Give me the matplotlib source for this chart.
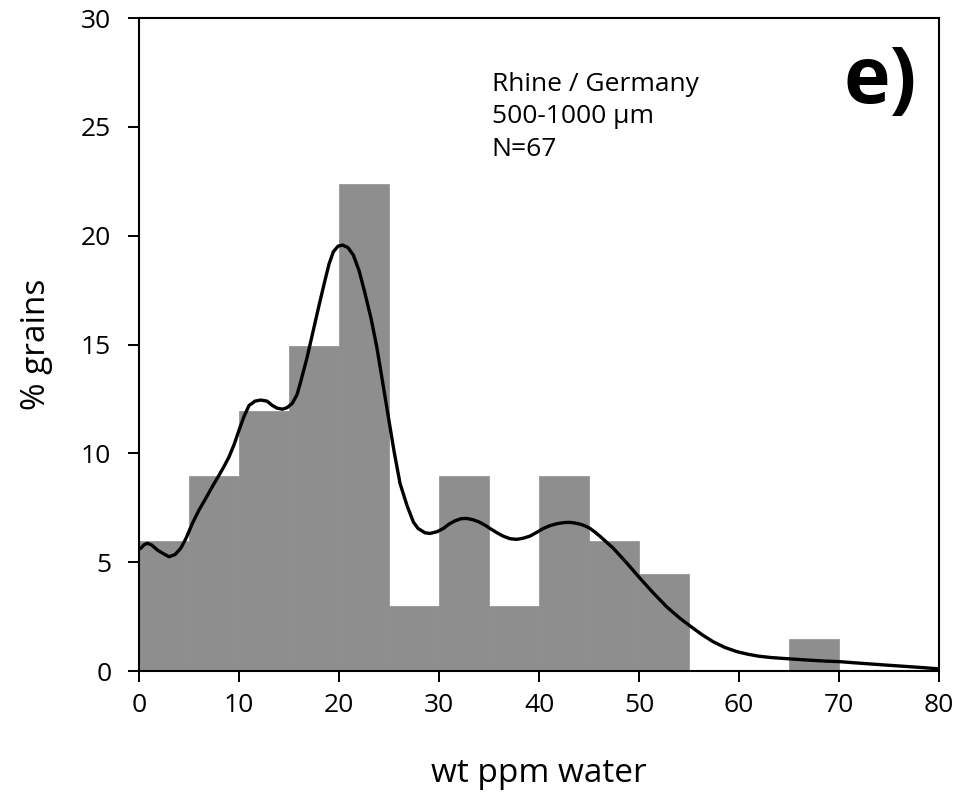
import numpy as np
import matplotlib.pyplot as plt

plt.rcParams['font.family'] = ['Open Sans', 'DejaVu Sans']

# histogram: % of grains per 5 ppm bin
bin_left = [0, 5, 10, 15, 20, 25, 30, 35, 40, 45, 50, 55, 60, 65, 70, 75]
pct_grains = [5.97, 8.96, 11.94, 14.93, 22.39, 2.99, 8.96, 2.99, 8.96, 5.97,
              4.48, 0, 0, 1.49, 0, 0]
bin_width = 5

# smoothed distribution curve
curve_x = [0, 0.17, 0.5, 0.83, 1.3, 1.83, 2.4, 3.0, 3.6, 4.17, 4.7, 5.33,
           6.0, 6.67, 7.3, 8.0, 8.5, 9.0, 9.5, 10.0, 10.5, 11.0, 11.6,
           12.17, 12.8, 13.33, 13.8, 14.33, 14.8, 15.33, 15.8, 16.17, 16.8,
           17.43, 18.0, 18.6, 19.0, 19.43, 19.9, 20.37, 20.9, 21.43, 22.0,
           22.6, 23.2, 23.77, 24.35, 24.93, 25.5, 26.1, 26.8, 27.43, 27.9,
           28.6, 29.1, 29.8, 30.43, 31.0, 31.6, 32.2, 32.77, 33.4, 34.0,
           34.6, 35.1, 35.8, 36.4, 37.1, 37.77, 38.4, 39.1, 39.8, 40.43,
           41.1, 41.8, 42.5, 43.1, 43.6, 44.1, 44.6, 45.1, 45.6, 46.2, 46.8,
           47.43, 48.8, 50.1, 51.4, 52.77, 54.1, 55.43, 56.4, 57.4, 58.6,
           59.8, 60.9, 62.0, 63.2, 64.4, 65.7, 67.0, 68.5, 70.1, 71.5, 73.0,
           74.5, 76.1, 78.0, 80.0]
curve_y = [5.6, 5.64, 5.8, 5.87, 5.78, 5.56, 5.4, 5.25, 5.35, 5.64, 6.1,
           6.78, 7.4, 7.93, 8.45, 9.0, 9.4, 9.84, 10.4, 11.07, 11.7, 12.2,
           12.4, 12.45, 12.4, 12.2, 12.08, 12.03, 12.1, 12.3, 12.7, 13.3,
           14.4, 15.66, 16.8, 17.96, 18.7, 19.26, 19.52, 19.57, 19.45,
           19.11, 18.4, 17.35, 16.2, 14.9, 13.3, 11.68, 10.1, 8.62, 7.6,
           6.85, 6.55, 6.35, 6.32, 6.4, 6.55, 6.75, 6.9, 7.0, 7.01, 6.95,
           6.85, 6.7, 6.55, 6.35, 6.2, 6.08, 6.05, 6.1, 6.2, 6.38, 6.55,
           6.68, 6.77, 6.82, 6.83, 6.8, 6.75, 6.67, 6.55, 6.38, 6.15, 5.9,
           5.64, 4.95, 4.26, 3.6, 2.95, 2.42, 1.96, 1.64, 1.35, 1.08, 0.89,
           0.77, 0.68, 0.62, 0.58, 0.54, 0.5, 0.46, 0.43, 0.38, 0.33, 0.28,
           0.23, 0.17, 0.1]

fig = plt.figure(figsize=(9.61, 7.98), dpi=100)
ax = fig.add_axes([0.1447, 0.1591, 0.8324, 0.8183])

ax.bar(bin_left, pct_grains, width=bin_width, align='edge',
       color='#8e8e8e', edgecolor='#8e8e8e', linewidth=0.5, zorder=1)
ax.plot(curve_x, curve_y, color='black', linewidth=2.4, zorder=3,
        solid_capstyle='round', solid_joinstyle='round')

ax.set_xlim(0, 80)
ax.set_ylim(0, 30)
ax.set_xticks(np.arange(0, 81, 10))
ax.set_yticks(np.arange(0, 31, 5))
ax.tick_params(direction='out', length=8, width=1.4, labelsize=19, pad=8)
ax.tick_params(axis='y', pad=12)
for side in ax.spines.values():
    side.set_linewidth(1.5)

ax.set_xlabel('wt ppm water', fontsize=24, labelpad=28)
ax.set_ylabel('% grains', fontsize=24, labelpad=20)

ax.text(0.441, 0.918, 'Rhine / Germany\n500-1000 µm\nN=67', transform=ax.transAxes,
        fontsize=19, va='top', ha='left', linespacing=1.4)
ax.text(0.972, 0.962, 'e)', transform=ax.transAxes, fontsize=57,
        fontweight='bold', va='top', ha='right')

plt.savefig('out.png', dpi=100)
